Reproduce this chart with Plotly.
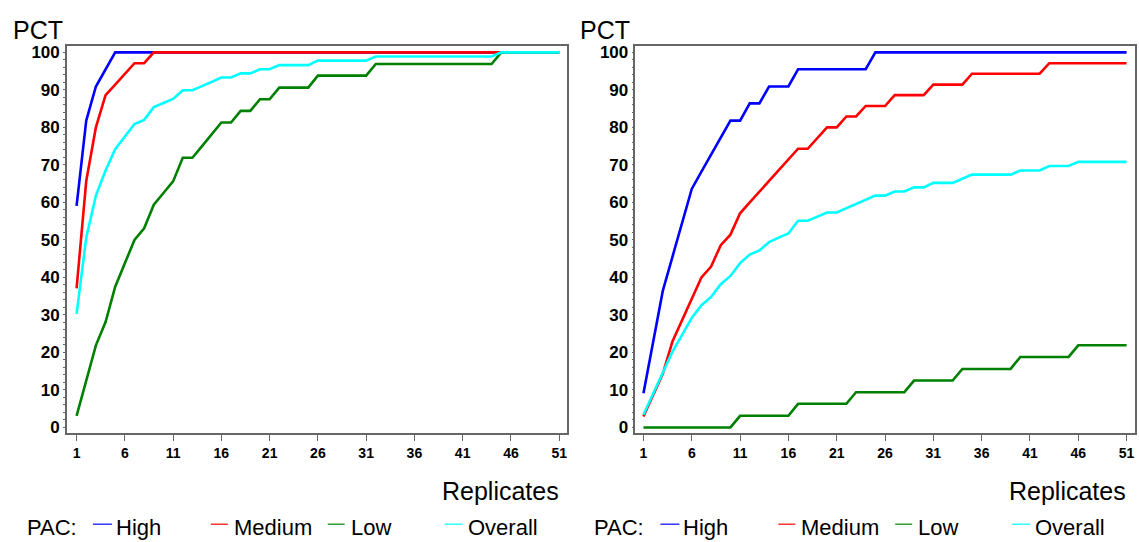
import plotly.graph_objects as go

# Replicate index shared by both panels
replicates = list(range(1, 52))
x_tick_vals = [1, 6, 11, 16, 21, 26, 31, 36, 41, 46, 51]
y_tick_vals = [0, 10, 20, 30, 40, 50, 60, 70, 80, 90, 100]

# Left panel: cumulative percentage by replicate
left_high = [
    59.1, 81.8, 90.9, 95.5, 100, 100, 100, 100, 100, 100,
    100, 100, 100, 100, 100, 100, 100, 100, 100, 100,
    100, 100, 100, 100, 100, 100, 100, 100, 100, 100,
    100, 100, 100, 100, 100, 100, 100, 100, 100, 100,
    100, 100, 100, 100, 100, 100, 100, 100, 100, 100,
    100,
]
left_medium = [
    37.1, 65.7, 80.0, 88.6, 91.4, 94.3, 97.1, 97.1, 100, 100,
    100, 100, 100, 100, 100, 100, 100, 100, 100, 100,
    100, 100, 100, 100, 100, 100, 100, 100, 100, 100,
    100, 100, 100, 100, 100, 100, 100, 100, 100, 100,
    100, 100, 100, 100, 100, 100, 100, 100, 100, 100,
    100,
]
left_low = [
    3.1, 12.5, 21.9, 28.1, 37.5, 43.8, 50.0, 53.1, 59.4, 62.5,
    65.6, 71.9, 71.9, 75.0, 78.1, 81.3, 81.3, 84.4, 84.4, 87.5,
    87.5, 90.6, 90.6, 90.6, 90.6, 93.8, 93.8, 93.8, 93.8, 93.8,
    93.8, 96.9, 96.9, 96.9, 96.9, 96.9, 96.9, 96.9, 96.9, 96.9,
    96.9, 96.9, 96.9, 96.9, 100, 100, 100, 100, 100, 100,
    100,
]
left_overall = [
    30.3, 50.6, 61.8, 68.5, 74.2, 77.5, 80.9, 82.0, 85.4, 86.5,
    87.6, 89.9, 89.9, 91.0, 92.1, 93.3, 93.3, 94.4, 94.4, 95.5,
    95.5, 96.6, 96.6, 96.6, 96.6, 97.8, 97.8, 97.8, 97.8, 97.8,
    97.8, 98.9, 98.9, 98.9, 98.9, 98.9, 98.9, 98.9, 98.9, 98.9,
    98.9, 98.9, 98.9, 98.9, 100, 100, 100, 100, 100, 100,
    100,
]

# Right panel: cumulative percentage by replicate
right_high = [
    9.1, 22.7, 36.4, 45.5, 54.5, 63.6, 68.2, 72.7, 77.3, 81.8,
    81.8, 86.4, 86.4, 90.9, 90.9, 90.9, 95.5, 95.5, 95.5, 95.5,
    95.5, 95.5, 95.5, 95.5, 100, 100, 100, 100, 100, 100,
    100, 100, 100, 100, 100, 100, 100, 100, 100, 100,
    100, 100, 100, 100, 100, 100, 100, 100, 100, 100,
    100,
]
right_medium = [
    2.9, 8.6, 14.3, 22.9, 28.6, 34.3, 40.0, 42.9, 48.6, 51.4,
    57.1, 60.0, 62.9, 65.7, 68.6, 71.4, 74.3, 74.3, 77.1, 80.0,
    80.0, 82.9, 82.9, 85.7, 85.7, 85.7, 88.6, 88.6, 88.6, 88.6,
    91.4, 91.4, 91.4, 91.4, 94.3, 94.3, 94.3, 94.3, 94.3, 94.3,
    94.3, 94.3, 97.1, 97.1, 97.1, 97.1, 97.1, 97.1, 97.1, 97.1,
    97.1,
]
right_low = [
    0, 0, 0, 0, 0, 0, 0, 0, 0, 0,
    3.1, 3.1, 3.1, 3.1, 3.1, 3.1, 6.3, 6.3, 6.3, 6.3,
    6.3, 6.3, 9.4, 9.4, 9.4, 9.4, 9.4, 9.4, 12.5, 12.5,
    12.5, 12.5, 12.5, 15.6, 15.6, 15.6, 15.6, 15.6, 15.6, 18.8,
    18.8, 18.8, 18.8, 18.8, 18.8, 21.9, 21.9, 21.9, 21.9, 21.9,
    21.9,
]
right_overall = [
    3.4, 9.0, 14.6, 20.2, 24.7, 29.2, 32.6, 34.8, 38.2, 40.4,
    43.8, 46.1, 47.2, 49.4, 50.6, 51.7, 55.1, 55.1, 56.2, 57.3,
    57.3, 58.4, 59.6, 60.7, 61.8, 61.8, 62.9, 62.9, 64.0, 64.0,
    65.2, 65.2, 65.2, 66.3, 67.4, 67.4, 67.4, 67.4, 67.4, 68.5,
    68.5, 68.5, 69.7, 69.7, 69.7, 70.8, 70.8, 70.8, 70.8, 70.8,
    70.8,
]

group_names = ["High", "Medium", "Low", "Overall"]
group_colors = ["#0000FF", "#FF0000", "#008000", "#00FFFF"]

W, H = 1139, 542
FONT = "Liberation Sans, Arial, sans-serif"


def px_x(p):
    return p / W


def px_y(p):
    return 1 - p / H


fig = go.Figure()

panels = [
    ("x", "y", [left_high, left_medium, left_low, left_overall]),
    ("x2", "y2", [right_high, right_medium, right_low, right_overall]),
]
for xa, ya, series in panels:
    for name, color, vals in zip(group_names, group_colors, series):
        fig.add_trace(go.Scatter(
            x=replicates, y=vals, mode="lines", name=name,
            line=dict(color=color, width=2.6, shape="linear"),
            xaxis=xa, yaxis=ya, showlegend=False, hoverinfo="skip",
        ))

axis_line = "#666666"
common_x = dict(
    tickmode="array", tickvals=x_tick_vals, ticktext=[str(v) for v in x_tick_vals],
    ticks="outside", ticklen=6, tickwidth=1, tickcolor=axis_line,
    showline=True, linecolor=axis_line, linewidth=1.5, mirror=True,
    showgrid=False, zeroline=False,
    tickfont=dict(family=FONT, size=14, color="black", weight="bold"),
)
common_y = dict(
    range=[-1.58, 101.58], tickmode="array", tickvals=y_tick_vals,
    ticks="outside", ticklen=2, tickwidth=1, tickcolor=axis_line,
    minor=dict(dtick=2, tick0=0, ticks="outside", ticklen=2, tickcolor=axis_line, showgrid=False),
    showline=True, linecolor=axis_line, linewidth=1.5, mirror=True,
    showgrid=False, zeroline=False,
    tickfont=dict(family=FONT, size=17, color="black", weight="bold"),
)

y_dom = [px_y(436), px_y(44)]
fig.update_layout(
    width=W, height=H,
    margin=dict(l=0, r=0, t=0, b=0),
    paper_bgcolor="white", plot_bgcolor="white",
    xaxis=dict(domain=[px_x(67), px_x(567)], range=[0.0, 51.76], anchor="y", **common_x),
    yaxis=dict(domain=y_dom, anchor="x", **common_y),
    xaxis2=dict(domain=[px_x(636), px_x(1136)], range=[0.17, 51.87], anchor="y2", **common_x),
    yaxis2=dict(domain=y_dom, anchor="x2", **common_y),
    showlegend=False,
)

annotations = []
shapes = []
# Per-panel titles and legend rows; dx is the horizontal offset of each panel block
for dx in (0, 568):
    annotations.append(dict(
        text="PCT", x=px_x(11 + dx), y=px_y(27), xref="paper", yref="paper",
        xanchor="left", yanchor="middle", showarrow=False,
        font=dict(family=FONT, size=25, color="black"),
    ))
    annotations.append(dict(
        text="Replicates", x=px_x(561 + dx), y=px_y(494), xref="paper", yref="paper",
        xanchor="right", yanchor="middle", showarrow=False,
        font=dict(family=FONT, size=25, color="black"),
    ))
    annotations.append(dict(
        text="PAC:", x=px_x(25 + dx), y=px_y(531), xref="paper", yref="paper",
        xanchor="left", yanchor="middle", showarrow=False,
        font=dict(family=FONT, size=22, color="black"),
    ))
    swatches = [(93, 112, 114), (211, 228, 232), (328, 345, 349), (445, 463, 466)]
    for (s0, s1, tx), name, color in zip(swatches, group_names, group_colors):
        shapes.append(dict(
            type="line", xref="paper", yref="paper",
            x0=px_x(s0 + dx), x1=px_x(s1 + dx), y0=px_y(528), y1=px_y(528),
            line=dict(color=color, width=1.2),
        ))
        annotations.append(dict(
            text=name, x=px_x(tx + dx), y=px_y(531), xref="paper", yref="paper",
            xanchor="left", yanchor="middle", showarrow=False,
            font=dict(family=FONT, size=22, color="black"),
        ))

fig.update_layout(annotations=annotations, shapes=shapes)
fig.write_html("out.html")
